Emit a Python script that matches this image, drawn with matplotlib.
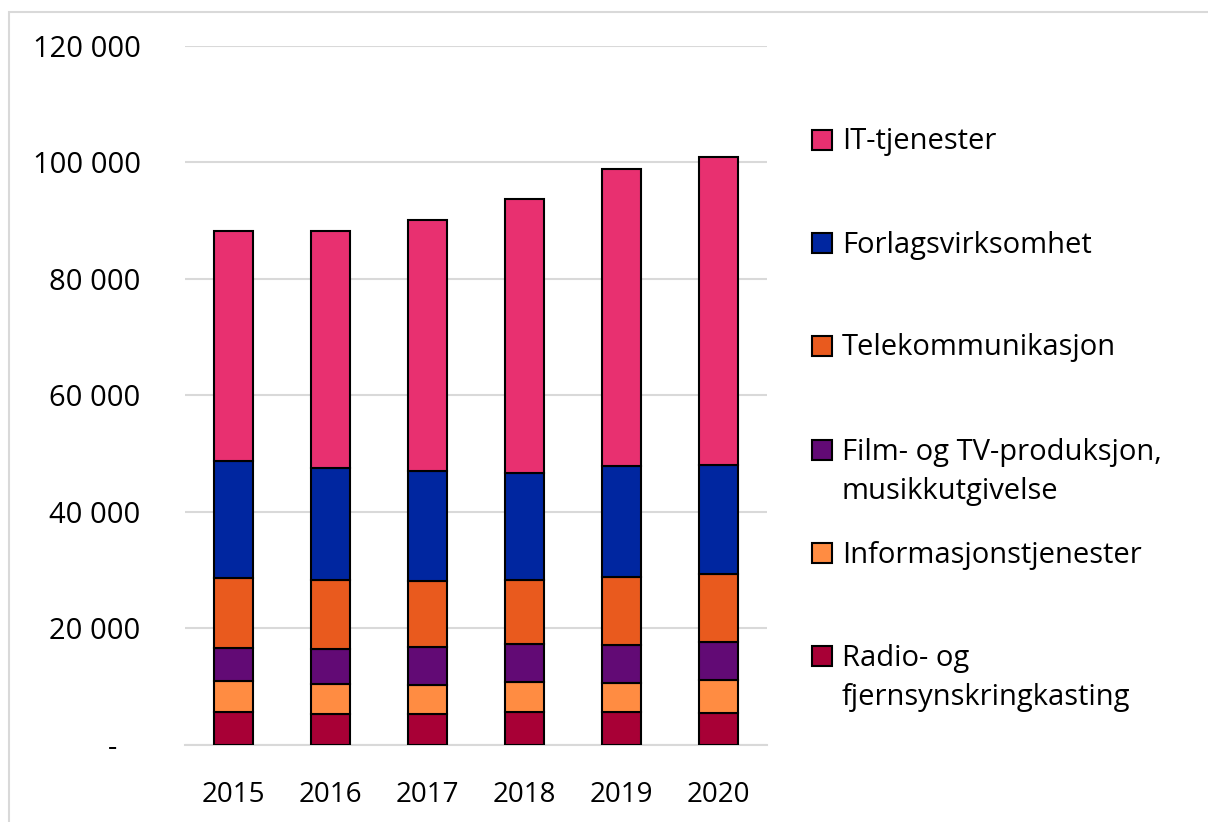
import matplotlib.pyplot as plt
from matplotlib.patches import Rectangle
import numpy as np

plt.rcParams['font.family'] = ['Open Sans', 'DejaVu Sans']

# år og verdier (segmenter, nedenfra og opp)
years = ['2015', '2016', '2017', '2018', '2019', '2020']
radio = [5700, 5300, 5300, 5700, 5700, 5500]
info = [5300, 5200, 5000, 5100, 4950, 5700]
film = [5700, 6000, 6500, 6550, 6550, 6500]
tele = [12000, 11850, 11400, 11000, 11700, 11700]
forlag = [20100, 19250, 18900, 18350, 19000, 18700]
it = [39500, 40700, 43100, 47100, 50900, 52900]

series = [radio, info, film, tele, forlag, it]
names = ['Radio- og\nfjernsynskringkasting', 'Informasjonstjenester',
         'Film- og TV-produksjon,\nmusikkutgivelse', 'Telekommunikasjon',
         'Forlagsvirksomhet', 'IT-tjenester']
colors = ['#A80036', '#FF8C42', '#620A75', '#E95A1E', '#0026A0', '#E83070']

yticks = [0, 20000, 40000, 60000, 80000, 100000, 120000]
yticklabels = ['-   ', '20 000', '40 000', '60 000', '80 000', '100 000', '120 000']

fig = plt.figure(figsize=(12.08, 8.22), dpi=100)
ax = fig.add_axes([0.1531, 0.0937, 0.4818, 0.8504])

x = np.arange(len(years))
bottom = np.zeros(len(years))
for vals, c in zip(series, colors):
    ax.bar(x, vals, width=0.4, bottom=bottom, color=c, edgecolor='black',
           linewidth=1.5, zorder=3)
    bottom += np.array(vals)

ax.set_xlim(-0.5, 5.5)
ax.set_ylim(0, 120000)
ax.set_xticks(x)
ax.set_xticklabels(years)
ax.set_yticks(yticks)
ax.set_yticklabels(yticklabels)
ax.tick_params(axis='both', length=0, labelsize=20, colors='black')
ax.tick_params(axis='y', pad=32, labelsize=21)
ax.tick_params(axis='x', pad=26)
ax.grid(axis='y', color='#d9d9d9', linewidth=1.5, zorder=0)
for s in ['top', 'right', 'left']:
    ax.spines[s].set_visible(False)
ax.spines['bottom'].set_color('#d9d9d9')
ax.spines['bottom'].set_linewidth(1.5)

# forklaring, plassert manuelt
W, H = 1208, 822
legend_y = [142, 245, 348, 472, 555, 678]
order = [5, 4, 3, 2, 1, 0]
for yy, i in zip(legend_y, order):
    if '\n' in names[i]:
        sq_y = yy - 22
    else:
        sq_y = yy - 2
    fig.patches.append(Rectangle((812 / W, 1 - (sq_y + 10) / H), 20 / W, 20 / H,
                                 transform=fig.transFigure, facecolor=colors[i],
                                 edgecolor='black', linewidth=1.5))
    fig.text(842 / W, 1 - yy / H, names[i], fontsize=21, va='center', ha='left',
             linespacing=1.45)

# ramme rundt figuren
fig.patches.append(Rectangle((9 / W, -0.1), 1.2, 1 - 12 / H + 0.1,
                             transform=fig.transFigure, fill=False,
                             edgecolor='#d9d9d9', linewidth=1.5))

fig.savefig('out.png', dpi=100)
